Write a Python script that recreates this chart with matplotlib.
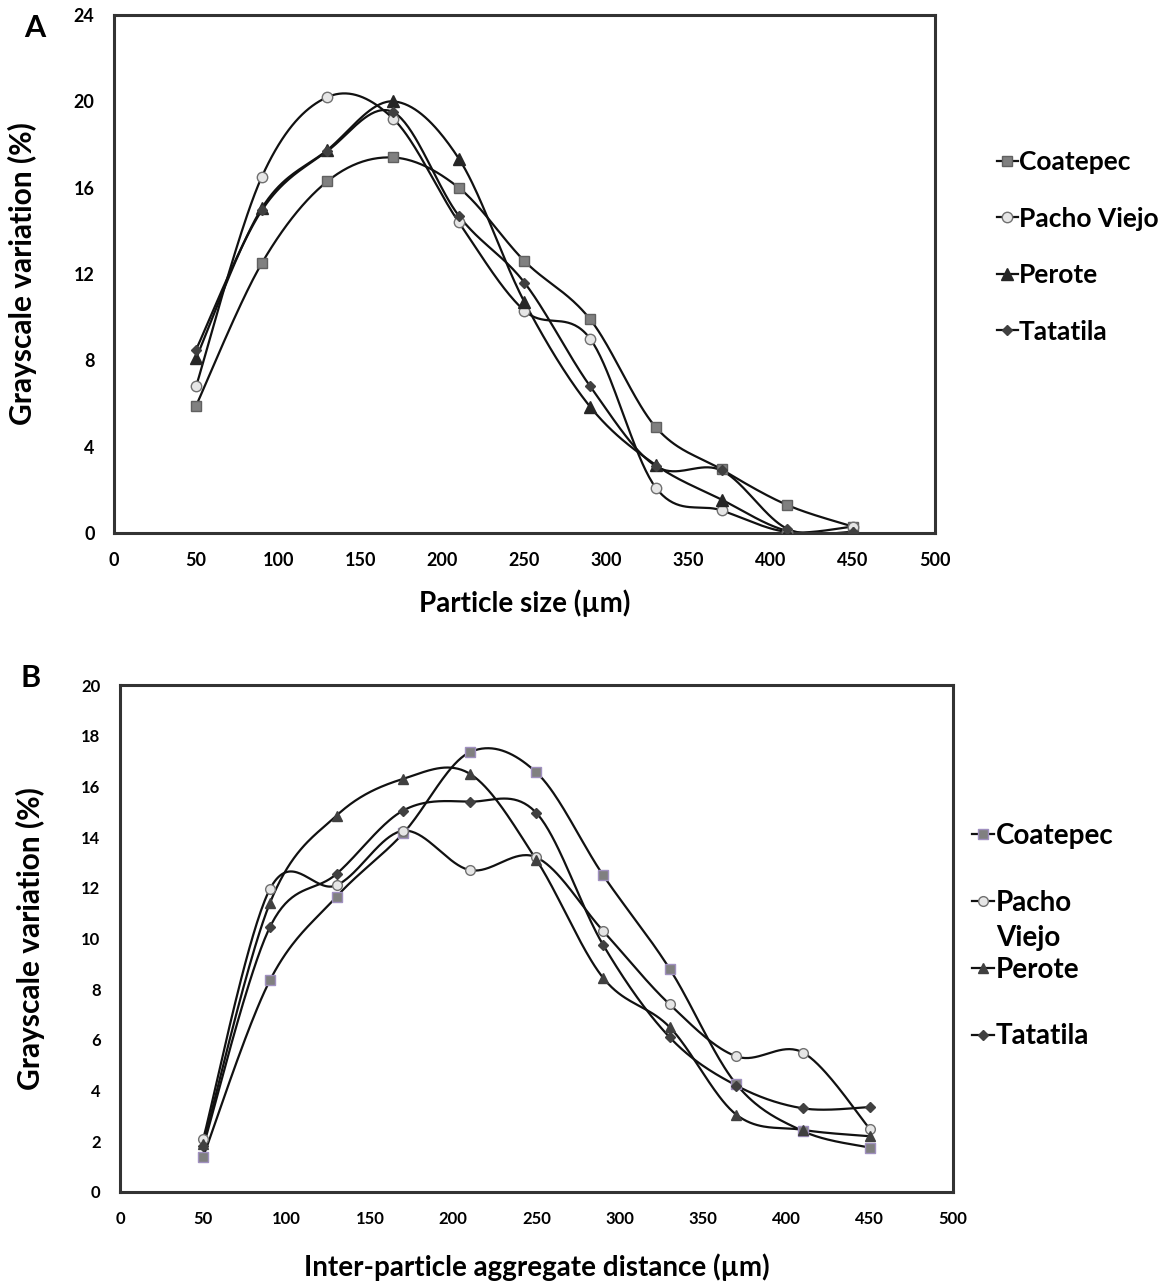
import numpy as np
import matplotlib
matplotlib.use("Agg")
import matplotlib.pyplot as plt

plt.rcParams['font.family'] = ['Lato', 'DejaVu Sans']
plt.rcParams['font.weight'] = 'bold'

x = [50, 90, 130, 170, 210, 250, 290, 330, 370, 410, 450]
names = ['Coatepec', 'Pacho Viejo', 'Perote', 'Tatatila']

# panel A: particle size
a_coatepec = [5.9, 12.5, 16.3, 17.4, 16.0, 12.6, 9.9, 4.9, 2.95, 1.3, 0.3]
a_pacho = [6.8, 16.5, 20.2, 19.2, 14.4, 10.3, 9.0, 2.1, 1.05, 0.05, 0.3]
a_perote = [8.1, 15.05, 17.75, 20.0, 17.35, 10.7, 5.85, 3.15, 1.55, 0.1, 0.0]
a_tatatila = [8.5, 14.95, 17.7, 19.5, 14.7, 11.6, 6.8, 3.1, 2.9, 0.2, 0.05]

# panel B: inter-particle aggregate distance
b_coatepec = [1.4, 8.35, 11.65, 14.15, 17.35, 16.55, 12.5, 8.8, 4.25, 2.4, 1.75]
b_pacho = [2.1, 11.95, 12.1, 14.25, 12.7, 13.2, 10.3, 7.4, 5.35, 5.5, 2.5]
b_perote = [1.9, 11.4, 14.85, 16.3, 16.5, 13.1, 8.45, 6.5, 3.05, 2.45, 2.2]
b_tatatila = [1.8, 10.45, 12.55, 15.05, 15.4, 14.95, 9.75, 6.1, 4.2, 3.3, 3.35]


def smooth(xs, ys, n=40):
    # excel-like smoothed line (catmull-rom as bezier)
    p = np.column_stack([xs, ys]).astype(float)
    p = np.vstack([p[0], p, p[-1]])
    out = []
    t = np.linspace(0, 1, n)[:, None]
    for i in range(1, len(p) - 2):
        p0, p1, p2, p3 = p[i - 1], p[i], p[i + 1], p[i + 2]
        c1 = p1 + (p2 - p0) / 6
        c2 = p2 - (p3 - p1) / 6
        seg = ((1 - t) ** 3) * p1 + 3 * ((1 - t) ** 2) * t * c1 + 3 * (1 - t) * t ** 2 * c2 + t ** 3 * p2
        out.append(seg)
    out = np.vstack(out)
    return out[:, 0], out[:, 1]


fig = plt.figure(figsize=(11.74, 12.86), dpi=100)
axA = fig.add_axes([0.0971, 0.5855, 0.6993, 0.4028])
axB = fig.add_axes([0.1022, 0.0731, 0.7095, 0.3942])

stA = [
    dict(marker='s', mfc='#808080', mec='#606060', ms=7.5),
    dict(marker='o', mfc='#e6e6e6', mec='#707070', ms=7.5),
    dict(marker='^', mfc='#262626', mec='#262626', ms=9),
    dict(marker='D', mfc='#404040', mec='#404040', ms=5.5),
]
stB = [
    dict(marker='s', mfc='#808080', mec='#a090c0', ms=7),
    dict(marker='o', mfc='#e6e6e6', mec='#707070', ms=7),
    dict(marker='^', mfc='#404040', mec='#404040', ms=7),
    dict(marker='D', mfc='#404040', mec='#404040', ms=5.5),
]


def draw(ax, series, styles, labels, yticks, xlabel, tsize, xpad, anchor, lsize, lspacing):
    for ys, st, lab in zip(series, styles, labels):
        sx, sy = smooth(x, ys)
        ax.plot(sx, sy, color='#111111', lw=1.6, zorder=2)
        ax.plot([], [], color='#111111', lw=1.6, label=lab, mew=1, **st)
        ax.plot(x, ys, ls='none', mew=1, zorder=3, **st)
    ax.set_xlim(0, 500)
    ax.set_xticks(np.arange(0, 501, 50))
    ax.set_ylim(yticks[0], yticks[-1])
    ax.set_yticks(yticks)
    ax.tick_params(length=0, labelsize=tsize)
    ax.tick_params(axis='x', pad=14)
    ax.tick_params(axis='y', pad=14)
    for s in ax.spines.values():
        s.set_linewidth(2.2)
        s.set_color('#333333')
    ax.set_xlabel(xlabel, fontsize=20, fontweight='bold', labelpad=xpad)
    ax.set_ylabel('Grayscale variation (%)', fontsize=21.5, fontweight='bold', labelpad=26)
    return ax.legend(loc='upper left', bbox_to_anchor=anchor, frameon=False,
                     fontsize=lsize, handlelength=0.8, handletextpad=0.05, labelspacing=lspacing,
                     borderaxespad=0, borderpad=0)


draw(axA, [a_coatepec, a_pacho, a_perote, a_tatatila], stA, names,
     np.arange(0, 25, 4), 'Particle size (\u00b5m)', 13, 14, (1.075, 0.739), 19, 1.23)
legB = draw(axB, [b_coatepec, b_pacho, b_perote, b_tatatila], stB,
            ['Coatepec', 'Pacho', 'Perote', 'Tatatila'],
            np.arange(0, 21, 2), 'Inter-particle aggregate distance (\u00b5m)', 12, 19,
            (1.023, 0.728), 20, 1.47)
# the wrapped second line of "Pacho Viejo" in panel B legend
axB.annotate('Viejo', xy=(0, 0), xycoords=legB.get_texts()[1], xytext=(0, -7),
             textcoords='offset points', ha='left', va='top', fontsize=20,
             fontweight='bold', zorder=10)

fig.text(0.03, 0.978, 'A', fontsize=22, fontweight='bold', va='center', ha='center')
fig.text(0.026, 0.473, 'B', fontsize=22, fontweight='bold', va='center', ha='center')

fig.savefig('out.png', dpi=100)
